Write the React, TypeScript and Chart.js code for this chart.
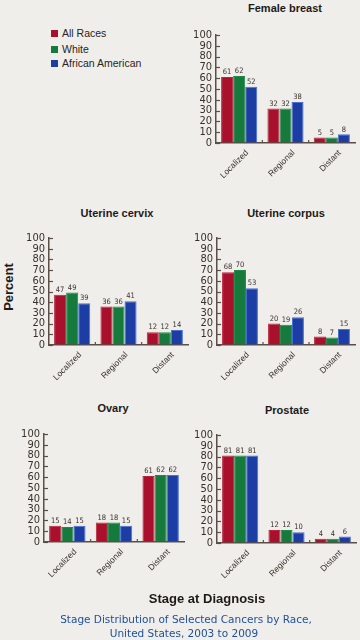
import React, { useEffect, useRef } from "react";
import { Chart, registerables } from "chart.js";

Chart.register(...registerables);

const stages = ["Localized", "Regional", "Distant"];
const seriesNames = ["All Races", "White", "African American"];
const seriesColors = ["#a8102c", "#157a3c", "#1c3ea4"];
const seriesBorders = ["#b8243c", "#22884a", "#4a70d0"];
const yTicks = [0, 10, 20, 30, 40, 50, 60, 70, 80, 90, 100];

const breastAll = [61, 32, 5];
const breastWhite = [62, 32, 5];
const breastAA = [52, 38, 8];

const cervixAll = [47, 36, 12];
const cervixWhite = [49, 36, 12];
const cervixAA = [39, 41, 14];

const corpusAll = [68, 20, 8];
const corpusWhite = [70, 19, 7];
const corpusAA = [53, 26, 15];

const ovaryAll = [15, 18, 61];
const ovaryWhite = [14, 18, 62];
const ovaryAA = [15, 15, 62];

const prostateAll = [81, 12, 4];
const prostateWhite = [81, 12, 4];
const prostateAA = [81, 10, 6];

const AXIS = "#5a4e46";
const TEXT = "#3a312b";
const BG = "#efeeeb";
const NARROW = "'Liberation Sans Narrow', 'DejaVu Sans Condensed', 'Liberation Sans', Arial, sans-serif";
const SANS = "'Liberation Sans', Arial, sans-serif";

type Rect = { x0: number; x1: number; yTop: number; yBot: number };

const YW = 30;
const XH = 48;
const PT = 12;
const PR = 4;

const decorPlugin = {
  id: "decor",
  afterDatasetsDraw(chart: any) {
    const ctx = chart.ctx;
    const x = chart.scales.x;
    const y = chart.scales.y;
    ctx.save();
    ctx.strokeStyle = AXIS;
    ctx.lineWidth = 1.2;
    y.ticks.forEach((_t: any, i: number) => {
      const py = Math.round(y.getPixelForTick(i)) + 0.5;
      ctx.beginPath();
      ctx.moveTo(x.left, py);
      ctx.lineTo(x.left + 4, py);
      ctx.stroke();
    });
    for (let i = 1; i < x.ticks.length; i++) {
      const px = (x.getPixelForTick(i - 1) + x.getPixelForTick(i)) / 2;
      ctx.beginPath();
      ctx.moveTo(px, y.bottom);
      ctx.lineTo(px, y.bottom - 3);
      ctx.stroke();
    }
    ctx.fillStyle = TEXT;
    ctx.font = "7.5px " + NARROW;
    ctx.textAlign = "center";
    ctx.textBaseline = "bottom";
    chart.data.datasets.forEach((ds: any, di: number) => {
      const meta = chart.getDatasetMeta(di);
      meta.data.forEach((bar: any, i: number) => {
        ctx.fillText(String(ds.data[i]), bar.x, bar.y - 1);
      });
    });
    ctx.restore();
  },
};

function Panel(props: { rect: Rect; series: number[][] }) {
  const ref = useRef<HTMLCanvasElement | null>(null);
  const { rect, series } = props;
  const w = rect.x1 - rect.x0 + YW + PR;
  const h = rect.yBot - rect.yTop + PT + XH;
  useEffect(() => {
    if (!ref.current) return;
    const chart = new Chart(ref.current, {
      type: "bar",
      data: {
        labels: stages,
        datasets: series.map((d, i) => ({
          label: seriesNames[i],
          data: d,
          backgroundColor: seriesColors[i],
          borderColor: seriesBorders[i],
          borderWidth: 1,
          categoryPercentage: 0.78,
          barPercentage: 1.0,
        })),
      },
      options: {
        animation: false,
        responsive: false,
        maintainAspectRatio: false,
        layout: { padding: { top: PT, right: PR, left: 0, bottom: 0 } },
        plugins: { legend: { display: false }, tooltip: { enabled: false }, title: { display: false } },
        scales: {
          x: {
            offset: true,
            grid: { display: true, drawOnChartArea: false, drawTicks: false, offset: true, color: "rgba(0,0,0,0)" },
            border: { display: true, color: AXIS, width: 1.5 },
            ticks: {
              autoSkip: false,
              maxRotation: 45,
              minRotation: 45,
              padding: 5,
              labelOffset: 8,
              color: TEXT,
              font: { family: SANS, size: 8.5 },
            },
            afterFit: (s: any) => {
              s.height = XH;
            },
          },
          y: {
            min: 0,
            max: 100,
            afterBuildTicks: (s: any) => {
              s.ticks = yTicks.map((v) => ({ value: v }));
            },
            grid: { display: true, drawOnChartArea: false, drawTicks: false, color: "rgba(0,0,0,0)" },
            border: { display: true, color: AXIS, width: 1.5 },
            ticks: {
              autoSkip: false,
              padding: 4,
              color: "#3a3029",
              font: { family: NARROW, size: 11 },
            },
            afterFit: (s: any) => {
              s.width = YW;
            },
          },
        },
      },
      plugins: [decorPlugin],
    });
    return () => chart.destroy();
  }, []);
  return (
    <canvas
      ref={ref}
      width={w}
      height={h}
      style={{ position: "absolute", left: rect.x0 - YW, top: rect.yTop - PT, width: w, height: h }}
    />
  );
}

function Label(props: { x: number; y: number; text: string; style?: React.CSSProperties }) {
  return (
    <div
      style={{
        position: "absolute",
        left: props.x,
        top: props.y,
        transform: "translate(-50%, -50%)",
        whiteSpace: "nowrap",
        ...props.style,
      }}
    >
      {props.text}
    </div>
  );
}

const titleStyle: React.CSSProperties = { fontFamily: SANS, fontWeight: 700, fontSize: 11, color: "#1e1a17" };

export default function App() {
  useEffect(() => {
    document.body.style.margin = "0";
    document.body.style.background = BG;
  }, []);
  return (
    <div style={{ position: "absolute", left: 0, top: 0, width: 360, height: 640, background: BG, overflow: "hidden" }}>
      {seriesNames.map((n, i) => (
        <div key={n} style={{ position: "absolute", left: 51, top: [33, 49, 63][i] - 7, height: 14, display: "flex", alignItems: "center" }}>
          <div style={{ width: 7, height: 7, background: seriesColors[i], marginRight: 4 }} />
          <span style={{ fontFamily: SANS, fontSize: 10.5, color: "#2a2420" }}>{n}</span>
        </div>
      ))}
      <Label x={285} y={8} text="Female breast" style={titleStyle} />
      <Label x={117} y={213} text="Uterine cervix" style={titleStyle} />
      <Label x={286} y={213} text="Uterine corpus" style={titleStyle} />
      <Label x={113} y={408} text="Ovary" style={titleStyle} />
      <Label x={287} y={410} text="Prostate" style={titleStyle} />
      <Panel rect={{ x0: 216, x1: 355, yTop: 35, yBot: 143 }} series={[breastAll, breastWhite, breastAA]} />
      <Panel rect={{ x0: 49, x1: 188, yTop: 238, yBot: 345 }} series={[cervixAll, cervixWhite, cervixAA]} />
      <Panel rect={{ x0: 217, x1: 355, yTop: 238, yBot: 345 }} series={[corpusAll, corpusWhite, corpusAA]} />
      <Panel rect={{ x0: 44, x1: 184, yTop: 434, yBot: 542 }} series={[ovaryAll, ovaryWhite, ovaryAA]} />
      <Panel rect={{ x0: 217, x1: 356, yTop: 435, yBot: 543 }} series={[prostateAll, prostateWhite, prostateAA]} />
      <Label
        x={8}
        y={287}
        text="Percent"
        style={{ fontFamily: SANS, fontWeight: 700, fontSize: 13, color: "#1e1a17", transform: "translate(-50%, -50%) rotate(-90deg)" }}
      />
      <Label x={207} y={598} text="Stage at Diagnosis" style={{ fontFamily: SANS, fontWeight: 700, fontSize: 13, color: "#1e1a17" }} />
      <Label x={186} y={619} text="Stage Distribution of Selected Cancers by Race," style={{ fontFamily: "'DejaVu Sans', sans-serif", fontSize: 10.5, color: "#1f4f9c" }} />
      <Label x={184} y={633} text="United States, 2003 to 2009" style={{ fontFamily: "'DejaVu Sans', sans-serif", fontSize: 10.5, color: "#1f4f9c" }} />
    </div>
  );
}
